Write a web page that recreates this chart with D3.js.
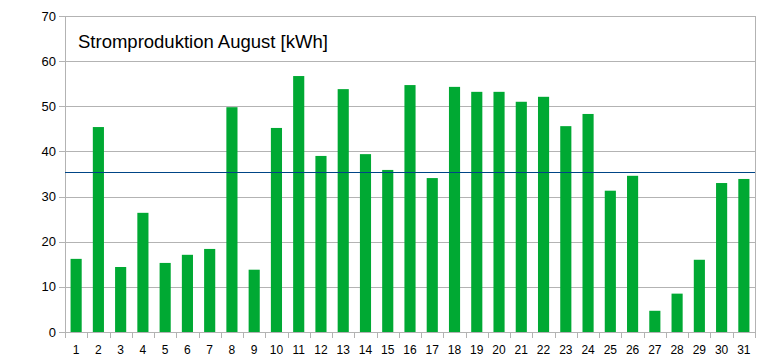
<!DOCTYPE html>
<html>
<head>
<meta charset="utf-8">
<script src="https://cdn.jsdelivr.net/npm/d3@7"></script>
<style>
body { margin: 0; background: #fff; }
text { font-family: "Liberation Sans", Arial, sans-serif; }
</style>
</head>
<body>
<div id="myDiv"></div>
<script>
var days = d3.range(1, 32).map(String)
var kwh = [16.2, 45.4, 14.4, 26.4, 15.3, 17.1, 18.4, 49.8, 13.8, 45.2,
           56.7, 39.0, 53.8, 39.4, 35.9, 54.7, 34.1, 54.3, 53.2, 53.2,
           51.0, 52.1, 45.6, 48.3, 31.3, 34.6, 4.7, 8.5, 16.0, 33.0, 33.9]
var yTicks = [0, 10, 20, 30, 40, 50, 60, 70]
var title = "Stromproduktion August [kWh]"

var mean = d3.mean(kwh)

var width = 768, height = 363
var plotLeft = 65, plotRight = 755, plotTop = 16, plotBottom = 332

let svg = d3.select("#myDiv").append("svg")
    .attr("width", width)
    .attr("height", height)

var x = d3.scaleBand().domain(days).range([plotLeft, plotRight]).paddingInner(0.5).paddingOuter(0.25)
var xb = d3.scaleBand().domain(days).range([plotLeft, plotRight])
var y = d3.scaleLinear().domain([0, 70]).range([plotBottom, plotTop])

// grid
svg.append("g")
    .selectAll("line")
    .data(yTicks)
    .enter()
    .append("line")
    .attr("x1", plotLeft - 6)
    .attr("x2", plotRight)
    .attr("y1", d => Math.round(y(d)) + 0.5)
    .attr("y2", d => Math.round(y(d)) + 0.5)
    .attr("stroke", "#b3b3b3")

svg.append("line")
    .attr("x1", plotLeft + 0.5).attr("x2", plotLeft + 0.5)
    .attr("y1", plotTop).attr("y2", plotBottom + 6)
    .attr("stroke", "#b3b3b3")
svg.append("line")
    .attr("x1", plotRight + 0.5).attr("x2", plotRight + 0.5)
    .attr("y1", plotTop).attr("y2", plotBottom + 6)
    .attr("stroke", "#b3b3b3")

// x ticks between categories
svg.append("g")
    .selectAll("line")
    .data(days.slice(1))
    .enter()
    .append("line")
    .attr("x1", d => Math.round(xb(d)) + 0.5)
    .attr("x2", d => Math.round(xb(d)) + 0.5)
    .attr("y1", plotBottom)
    .attr("y2", plotBottom + 6)
    .attr("stroke", "#b3b3b3")

// y labels
svg.append("g")
    .selectAll("text")
    .data(yTicks)
    .enter()
    .append("text")
    .attr("x", plotLeft - 9)
    .attr("y", d => y(d) + 4.5)
    .attr("text-anchor", "end")
    .attr("font-size", 13)
    .attr("fill", "#000")
    .text(d => d)

// x labels
svg.append("g")
    .selectAll("text")
    .data(days)
    .enter()
    .append("text")
    .attr("x", d => xb(d) + xb.bandwidth() / 2)
    .attr("y", plotBottom + 22)
    .attr("text-anchor", "middle")
    .attr("font-size", 12)
    .attr("fill", "#000")
    .text(d => d)

// bars
svg.append("g")
    .selectAll("rect")
    .data(kwh)
    .enter()
    .append("rect")
    .attr("x", (d, i) => x(days[i]))
    .attr("y", d => y(d))
    .attr("width", x.bandwidth())
    .attr("height", d => plotBottom - y(d))
    .attr("fill", "#00a933")

// mean line
svg.append("line")
    .attr("x1", plotLeft)
    .attr("x2", plotRight)
    .attr("y1", y(mean))
    .attr("y2", y(mean))
    .attr("stroke", "#004586")
    .attr("stroke-width", 1.2)

svg.append("text")
    .attr("x", 78)
    .attr("y", 48)
    .attr("font-size", 18.5)
    .attr("fill", "#000")
    .text(title)
</script>
</body>
</html>
